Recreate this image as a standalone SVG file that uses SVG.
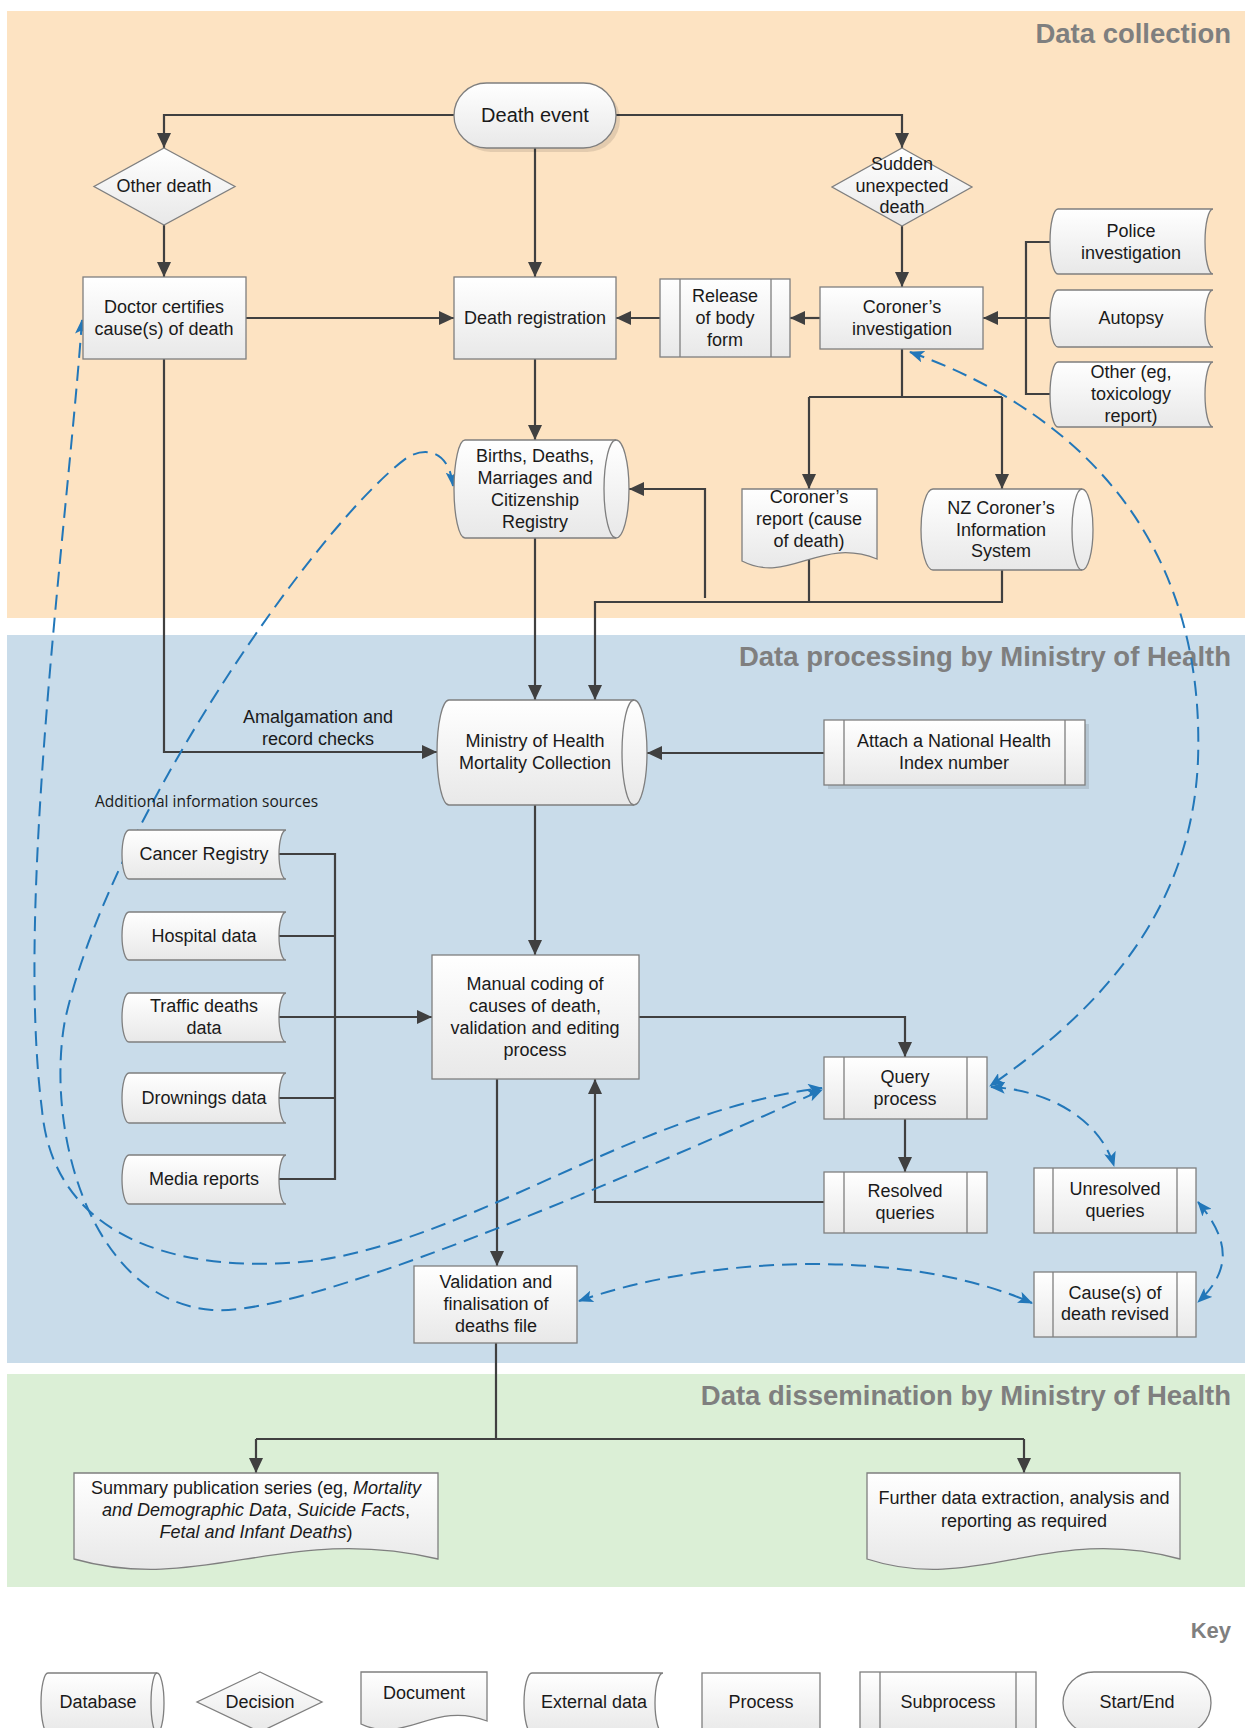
<svg xmlns="http://www.w3.org/2000/svg" width="1245" height="1728" viewBox="0 0 1245 1728">
<defs>
<linearGradient id="g" x1="0" y1="0" x2="0" y2="1"><stop offset="0" stop-color="#ffffff"/><stop offset="1" stop-color="#e8e8e8"/></linearGradient>
<marker id="ah" viewBox="0 0 15 14" refX="15" refY="7" markerWidth="15" markerHeight="14" markerUnits="userSpaceOnUse" orient="auto"><path d="M0,0 L15,7 L0,14 Z" fill="#404040"/></marker>
<marker id="bh" viewBox="0 0 15 12" refX="14" refY="6" markerWidth="15" markerHeight="12" markerUnits="userSpaceOnUse" orient="auto-start-reverse"><path d="M0,0 L15,6 L0,12 L3.5,6 Z" fill="#2277b9"/></marker>
<style>
.n{fill:url(#g);stroke:#7f7f7f;stroke-width:1.3}
.ln{fill:none;stroke:#7f7f7f;stroke-width:1.3}
.sh{fill:#000;opacity:.1}
.t{font-family:"Liberation Sans",Arial,sans-serif;font-size:18px;fill:#1a1a1a;text-anchor:middle}
.c{fill:none;stroke:#404040;stroke-width:2.2}
.a{marker-end:url(#ah)}
.d{fill:none;stroke:#2277b9;stroke-width:2;stroke-dasharray:15 8;marker-start:url(#bh);marker-end:url(#bh)}
.ti{font-family:"Liberation Sans",Arial,sans-serif;font-weight:bold;font-size:27.5px;fill:#7f7f7f;text-anchor:end}
.i{font-style:italic}
</style>
</defs>

<g id="panels">
<rect x="7" y="11" width="1238" height="607" fill="#fde3c2"/>
<rect x="7" y="635" width="1238" height="728" fill="#c9dcea"/>
<rect x="7" y="1374" width="1238" height="213" fill="#dbefd6"/>
<text class="ti" x="1231" y="43">Data collection</text>
<text class="ti" x="1231" y="666">Data processing by Ministry of Health</text>
<text class="ti" x="1231" y="1405">Data dissemination by Ministry of Health</text>
<text class="ti" x="1231" y="1638" style="font-size:22px">Key</text>
</g>

<g id="connectors">
<path class="c a" d="M454,115 H164 V148"/>
<path class="c a" d="M616,115 H902 V148"/>
<path class="c a" d="M535,148 V277"/>
<path class="c a" d="M164,225 V277"/>
<path class="c a" d="M902,226 V287"/>
<path class="c a" d="M246,318 H454"/>
<path class="c a" d="M820,318 H790"/>
<path class="c a" d="M660,318 H616"/>
<path class="c" d="M1050,242 H1026 V394 H1050"/>
<path class="c a" d="M1050,318 H983"/>
<path class="c" d="M902,349 V397 M809,397 H1002"/>
<path class="c a" d="M809,397 V489"/>
<path class="c a" d="M1002,397 V489"/>
<path class="c a" d="M535,359 V440"/>
<path class="c a" d="M535,538 V700"/>
<path class="c" d="M809,557 V602 M1002,570 V602"/>
<path class="c a" d="M1003,602 H595 V700"/>
<path class="c a" d="M705,598 V489 H629"/>
<path class="c a" d="M164,359 V752 H437"/>
<text class="t" x="318" y="723">Amalgamation and</text>
<text class="t" x="318" y="745">record checks</text>
<path class="c a" d="M824,753 H647"/>
<path class="c a" d="M535,805 V955"/>
<path class="c" d="M279,854 H335 V1179 H279 M279,936 H335 M279,1098 H335"/>
<path class="c a" d="M279,1017 H432"/>
<path class="c a" d="M497,1079 V1266"/>
<path class="c a" d="M639,1017 H905 V1057"/>
<path class="c a" d="M905,1119 V1172"/>
<path class="c a" d="M824,1202 H595 V1079"/>
<path class="c" d="M496,1343 V1439 M256,1439 H1024"/>
<path class="c a" d="M256,1439 V1473"/>
<path class="c a" d="M1024,1439 V1473"/>
<path class="d" d="M82,320 C68,520 15,900 42,1110 C55,1250 200,1275 320,1260 C480,1235 640,1110 822,1088"/>
<path class="d" d="M453,486 C450,455 430,445 408,457 C320,520 110,820 65,1020 C45,1130 90,1300 212,1310 C300,1317 600,1190 822,1090"/>
<path class="d" d="M910,352 C1100,420 1205,560 1198,760 C1192,910 1100,1010 990,1086"/>
<path class="d" d="M991,1087 C1050,1090 1100,1120 1114,1166"/>
<path class="d" d="M1198,1202 C1230,1240 1232,1270 1198,1302"/>
<path class="d" d="M579,1301 C700,1258 900,1245 1032,1303"/>
</g>

<g id="death-event">
<rect class="sh" x="458" y="87" width="162" height="65" rx="32.5"/>
<rect class="n" x="454" y="83" width="162" height="65" rx="32.5"/>
<text class="t" x="535" y="122" style="font-size:20px">Death event</text>
</g>
<g id="other-death">
<path class="n" d="M164,148 L235,186.5 L164,225 L94,186.5 Z"/>
<text class="t" x="164" y="192">Other death</text>
</g>
<g id="sudden-death">
<path class="n" d="M902,148 L972,187 L902,226 L832,187 Z"/>
<text class="t" x="902" y="170">Sudden</text>
<text class="t" x="902" y="192">unexpected</text>
<text class="t" x="902" y="213">death</text>
</g>
<g id="doctor-certifies">
<rect class="n" x="83" y="277" width="163" height="82"/>
<text class="t" x="164" y="313">Doctor certifies</text>
<text class="t" x="164" y="335">cause(s) of death</text>
</g>
<g id="death-registration">
<rect class="n" x="454" y="277" width="162" height="82"/>
<text class="t" x="535" y="324">Death registration</text>
</g>
<g id="release-body-form">
<rect class="n" x="660" y="279" width="130" height="78"/>
<path class="ln" d="M680,279 V357 M771,279 V357"/>
<text class="t" x="725" y="302">Release</text>
<text class="t" x="725" y="324">of body</text>
<text class="t" x="725" y="346">form</text>
</g>
<g id="coroners-investigation">
<rect class="n" x="820" y="287" width="163" height="62"/>
<text class="t" x="902" y="313">Coroner’s</text>
<text class="t" x="902" y="335">investigation</text>
</g>
<g id="police-investigation">
<path class="n" d="M1058,209 H1213 A8,32.5 0 0 0 1213,274 H1058 A8,32.5 0 0 1 1058,209 Z"/>
<text class="t" x="1131" y="237">Police</text>
<text class="t" x="1131" y="259">investigation</text>
</g>
<g id="autopsy">
<path class="n" d="M1058,290 H1213 A8,28.5 0 0 0 1213,347 H1058 A8,28.5 0 0 1 1058,290 Z"/>
<text class="t" x="1131" y="324">Autopsy</text>
</g>
<g id="other-toxicology">
<path class="n" d="M1058,362 H1213 A8,32.5 0 0 0 1213,427 H1058 A8,32.5 0 0 1 1058,362 Z"/>
<text class="t" x="1131" y="378">Other (eg,</text>
<text class="t" x="1131" y="400">toxicology</text>
<text class="t" x="1131" y="422">report)</text>
</g>
<g id="bdm-registry">
<path class="n" d="M465,440 H616 A13,49 0 0 1 616,538 H465 A11,49 0 0 1 465,440 Z"/>
<path class="ln" d="M616,440 A12,49 0 0 0 616,538"/>
<text class="t" x="535" y="462">Births, Deaths,</text>
<text class="t" x="535" y="484">Marriages and</text>
<text class="t" x="535" y="506">Citizenship</text>
<text class="t" x="535" y="528">Registry</text>
</g>
<g id="coroners-report">
<path class="n" d="M742,489 H877 V559 C820,536 789,585 742,561 Z"/>
<text class="t" x="809" y="503">Coroner’s</text>
<text class="t" x="809" y="525">report (cause</text>
<text class="t" x="809" y="547">of death)</text>
</g>
<g id="nzcis">
<path class="n" d="M933,489 H1082 A11,40.5 0 0 1 1082,570 H933 A12,40.5 0 0 1 933,489 Z"/>
<path class="ln" d="M1082,489 A10,40.5 0 0 0 1082,570"/>
<text class="t" x="1001" y="514">NZ Coroner’s</text>
<text class="t" x="1001" y="536">Information</text>
<text class="t" x="1001" y="557">System</text>
</g>
<g id="moh-mortality-collection">
<path class="n" d="M449,700 H634 A13,52.5 0 0 1 634,805 H449 A12,52.5 0 0 1 449,700 Z"/>
<path class="ln" d="M634,700 A12,52.5 0 0 0 634,805"/>
<text class="t" x="535" y="747">Ministry of Health</text>
<text class="t" x="535" y="769">Mortality Collection</text>
</g>
<g id="attach-nhi">
<rect class="sh" x="828" y="724" width="261" height="65"/>
<rect class="n" x="824" y="720" width="261" height="65"/>
<path class="ln" d="M844,720 V785 M1065,720 V785"/>
<text class="t" x="954" y="747">Attach a National Health</text>
<text class="t" x="954" y="769">Index number</text>
</g>
<g id="additional-sources-label">
<text x="95" y="807" style="font-family:'Open Sans','Liberation Sans',sans-serif;font-size:15.5px;fill:#1a1a1a">Additional information sources</text>
</g>
<g id="cancer-registry">
<path class="n" d="M129,830 H286 A7,24.5 0 0 0 286,879 H129 A7,24.5 0 0 1 129,830 Z"/>
<text class="t" x="204" y="860">Cancer Registry</text>
</g>
<g id="hospital-data">
<path class="n" d="M129,912 H286 A7,24 0 0 0 286,960 H129 A7,24 0 0 1 129,912 Z"/>
<text class="t" x="204" y="942">Hospital data</text>
</g>
<g id="traffic-deaths">
<path class="n" d="M129,993 H286 A7,24.5 0 0 0 286,1042 H129 A7,24.5 0 0 1 129,993 Z"/>
<text class="t" x="204" y="1012">Traffic deaths</text>
<text class="t" x="204" y="1034">data</text>
</g>
<g id="drownings-data">
<path class="n" d="M129,1073 H286 A7,25 0 0 0 286,1123 H129 A7,25 0 0 1 129,1073 Z"/>
<text class="t" x="204" y="1104">Drownings data</text>
</g>
<g id="media-reports">
<path class="n" d="M129,1155 H286 A7,24.5 0 0 0 286,1204 H129 A7,24.5 0 0 1 129,1155 Z"/>
<text class="t" x="204" y="1185">Media reports</text>
</g>
<g id="manual-coding">
<rect class="n" x="432" y="955" width="207" height="124"/>
<text class="t" x="535" y="990">Manual coding of</text>
<text class="t" x="535" y="1012">causes of death,</text>
<text class="t" x="535" y="1034">validation and editing</text>
<text class="t" x="535" y="1056">process</text>
</g>
<g id="query-process">
<rect class="n" x="824" y="1057" width="163" height="62"/>
<path class="ln" d="M844,1057 V1119 M967,1057 V1119"/>
<text class="t" x="905" y="1083">Query</text>
<text class="t" x="905" y="1105">process</text>
</g>
<g id="resolved-queries">
<rect class="n" x="824" y="1172" width="163" height="61"/>
<path class="ln" d="M844,1172 V1233 M967,1172 V1233"/>
<text class="t" x="905" y="1197">Resolved</text>
<text class="t" x="905" y="1219">queries</text>
</g>
<g id="unresolved-queries">
<rect class="n" x="1034" y="1168" width="162" height="65"/>
<path class="ln" d="M1053,1168 V1233 M1177,1168 V1233"/>
<text class="t" x="1115" y="1195">Unresolved</text>
<text class="t" x="1115" y="1217">queries</text>
</g>
<g id="causes-revised">
<rect class="n" x="1034" y="1272" width="162" height="65"/>
<path class="ln" d="M1053,1272 V1337 M1177,1272 V1337"/>
<text class="t" x="1115" y="1299">Cause(s) of</text>
<text class="t" x="1115" y="1320">death revised</text>
</g>
<g id="validation-finalisation">
<rect class="n" x="414" y="1266" width="163" height="77"/>
<text class="t" x="496" y="1288">Validation and</text>
<text class="t" x="496" y="1310">finalisation of</text>
<text class="t" x="496" y="1332">deaths file</text>
</g>
<g id="summary-publication">
<path class="n" d="M74,1473 H438 V1559 C285,1523 201,1595 74,1559 Z"/>
<text class="t" x="256" y="1494">Summary publication series (eg, <tspan class="i">Mortality</tspan></text>
<text class="t" x="256" y="1516"><tspan class="i">and Demographic Data</tspan>, <tspan class="i">Suicide Facts</tspan>,</text>
<text class="t" x="256" y="1538"><tspan class="i">Fetal and Infant Deaths</tspan>)</text>
</g>
<g id="further-extraction">
<path class="n" d="M867,1473 H1180 V1559 C1049,1523 977,1595 867,1559 Z"/>
<text class="t" x="1024" y="1504">Further data extraction, analysis and</text>
<text class="t" x="1024" y="1527">reporting as required</text>
</g>

<g id="key-database">
<path class="n" d="M48,1673 H157 A7,30 0 0 1 157,1733 H48 A7,30 0 0 1 48,1673 Z"/>
<path class="ln" d="M157,1673 A6,30 0 0 0 157,1733"/>
<text class="t" x="98" y="1708">Database</text>
</g>
<g id="key-decision">
<path class="n" d="M260,1672 L322,1702 L260,1732 L197,1702 Z"/>
<text class="t" x="260" y="1708">Decision</text>
</g>
<g id="key-document">
<path class="n" d="M361,1672 H487 V1721 C434,1700 405,1745 361,1724 Z"/>
<text class="t" x="424" y="1699">Document</text>
</g>
<g id="key-external">
<path class="n" d="M532,1673 H663 A8,30 0 0 0 663,1733 H532 A8,30 0 0 1 532,1673 Z"/>
<text class="t" x="594" y="1708">External data</text>
</g>
<g id="key-process">
<rect class="n" x="702" y="1673" width="118" height="62"/>
<text class="t" x="761" y="1708">Process</text>
</g>
<g id="key-subprocess">
<rect class="n" x="860" y="1672" width="176" height="62"/>
<path class="ln" d="M880,1672 V1734 M1016,1672 V1734"/>
<text class="t" x="948" y="1708">Subprocess</text>
</g>
<g id="key-startend">
<rect class="n" x="1063" y="1672" width="148" height="62" rx="31"/>
<text class="t" x="1137" y="1708">Start/End</text>
</g>
</svg>
